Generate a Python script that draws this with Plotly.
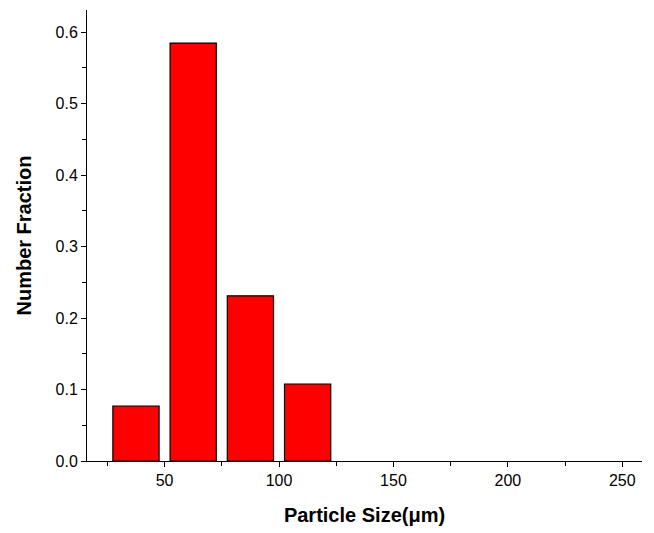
import plotly.graph_objects as go

bin_centers = [37.5, 62.5, 87.5, 112.5]
fractions = [0.0769, 0.5846, 0.2310, 0.1077]
x_ticks = [50, 100, 150, 200, 250]
y_ticks = [0.0, 0.1, 0.2, 0.3, 0.4, 0.5, 0.6]

fig = go.Figure()
fig.add_trace(go.Bar(
    x=bin_centers, y=fractions, width=20.2,
    marker=dict(color="#ff0000", line=dict(color="#000000", width=1.2)),
))

font_family = "Liberation Sans, Arial, sans-serif"
# page body has an 8px default margin, so figure is sized to fill the rest of the window
fig.update_layout(
    width=646, height=525,
    margin=dict(l=79, r=12, t=2, b=72, autoexpand=False),
    plot_bgcolor="white", paper_bgcolor="white",
    showlegend=False,
    font=dict(family=font_family, size=16, color="#000000"),
    xaxis=dict(
        range=[16.1, 258.6], tickvals=x_ticks, ticks="outside", ticklen=5, tickwidth=1,
        tickcolor="black", showline=True, linecolor="black", linewidth=1,
        showgrid=False, zeroline=False, automargin=False,
        minor=dict(tickvals=[25, 75, 125, 175, 225], ticks="outside", ticklen=4, tickcolor="black"),
        tickfont=dict(size=16),
        title=dict(text="<b>Particle Size(μm)</b>", font=dict(size=20), standoff=19),
    ),
    yaxis=dict(
        range=[0, 0.6308], tickvals=y_ticks, tickformat=".1f", ticks="outside", ticklen=5, tickwidth=1,
        tickcolor="black", showline=True, linecolor="black", linewidth=1,
        showgrid=False, zeroline=False, automargin=False,
        minor=dict(tickvals=[0.05, 0.15, 0.25, 0.35, 0.45, 0.55], ticks="outside", ticklen=4, tickcolor="black"),
        tickfont=dict(size=16),
        title=dict(text="<b>Number Fraction</b>", font=dict(size=20), standoff=18),
    ),
)

fig.write_html("out.html")
